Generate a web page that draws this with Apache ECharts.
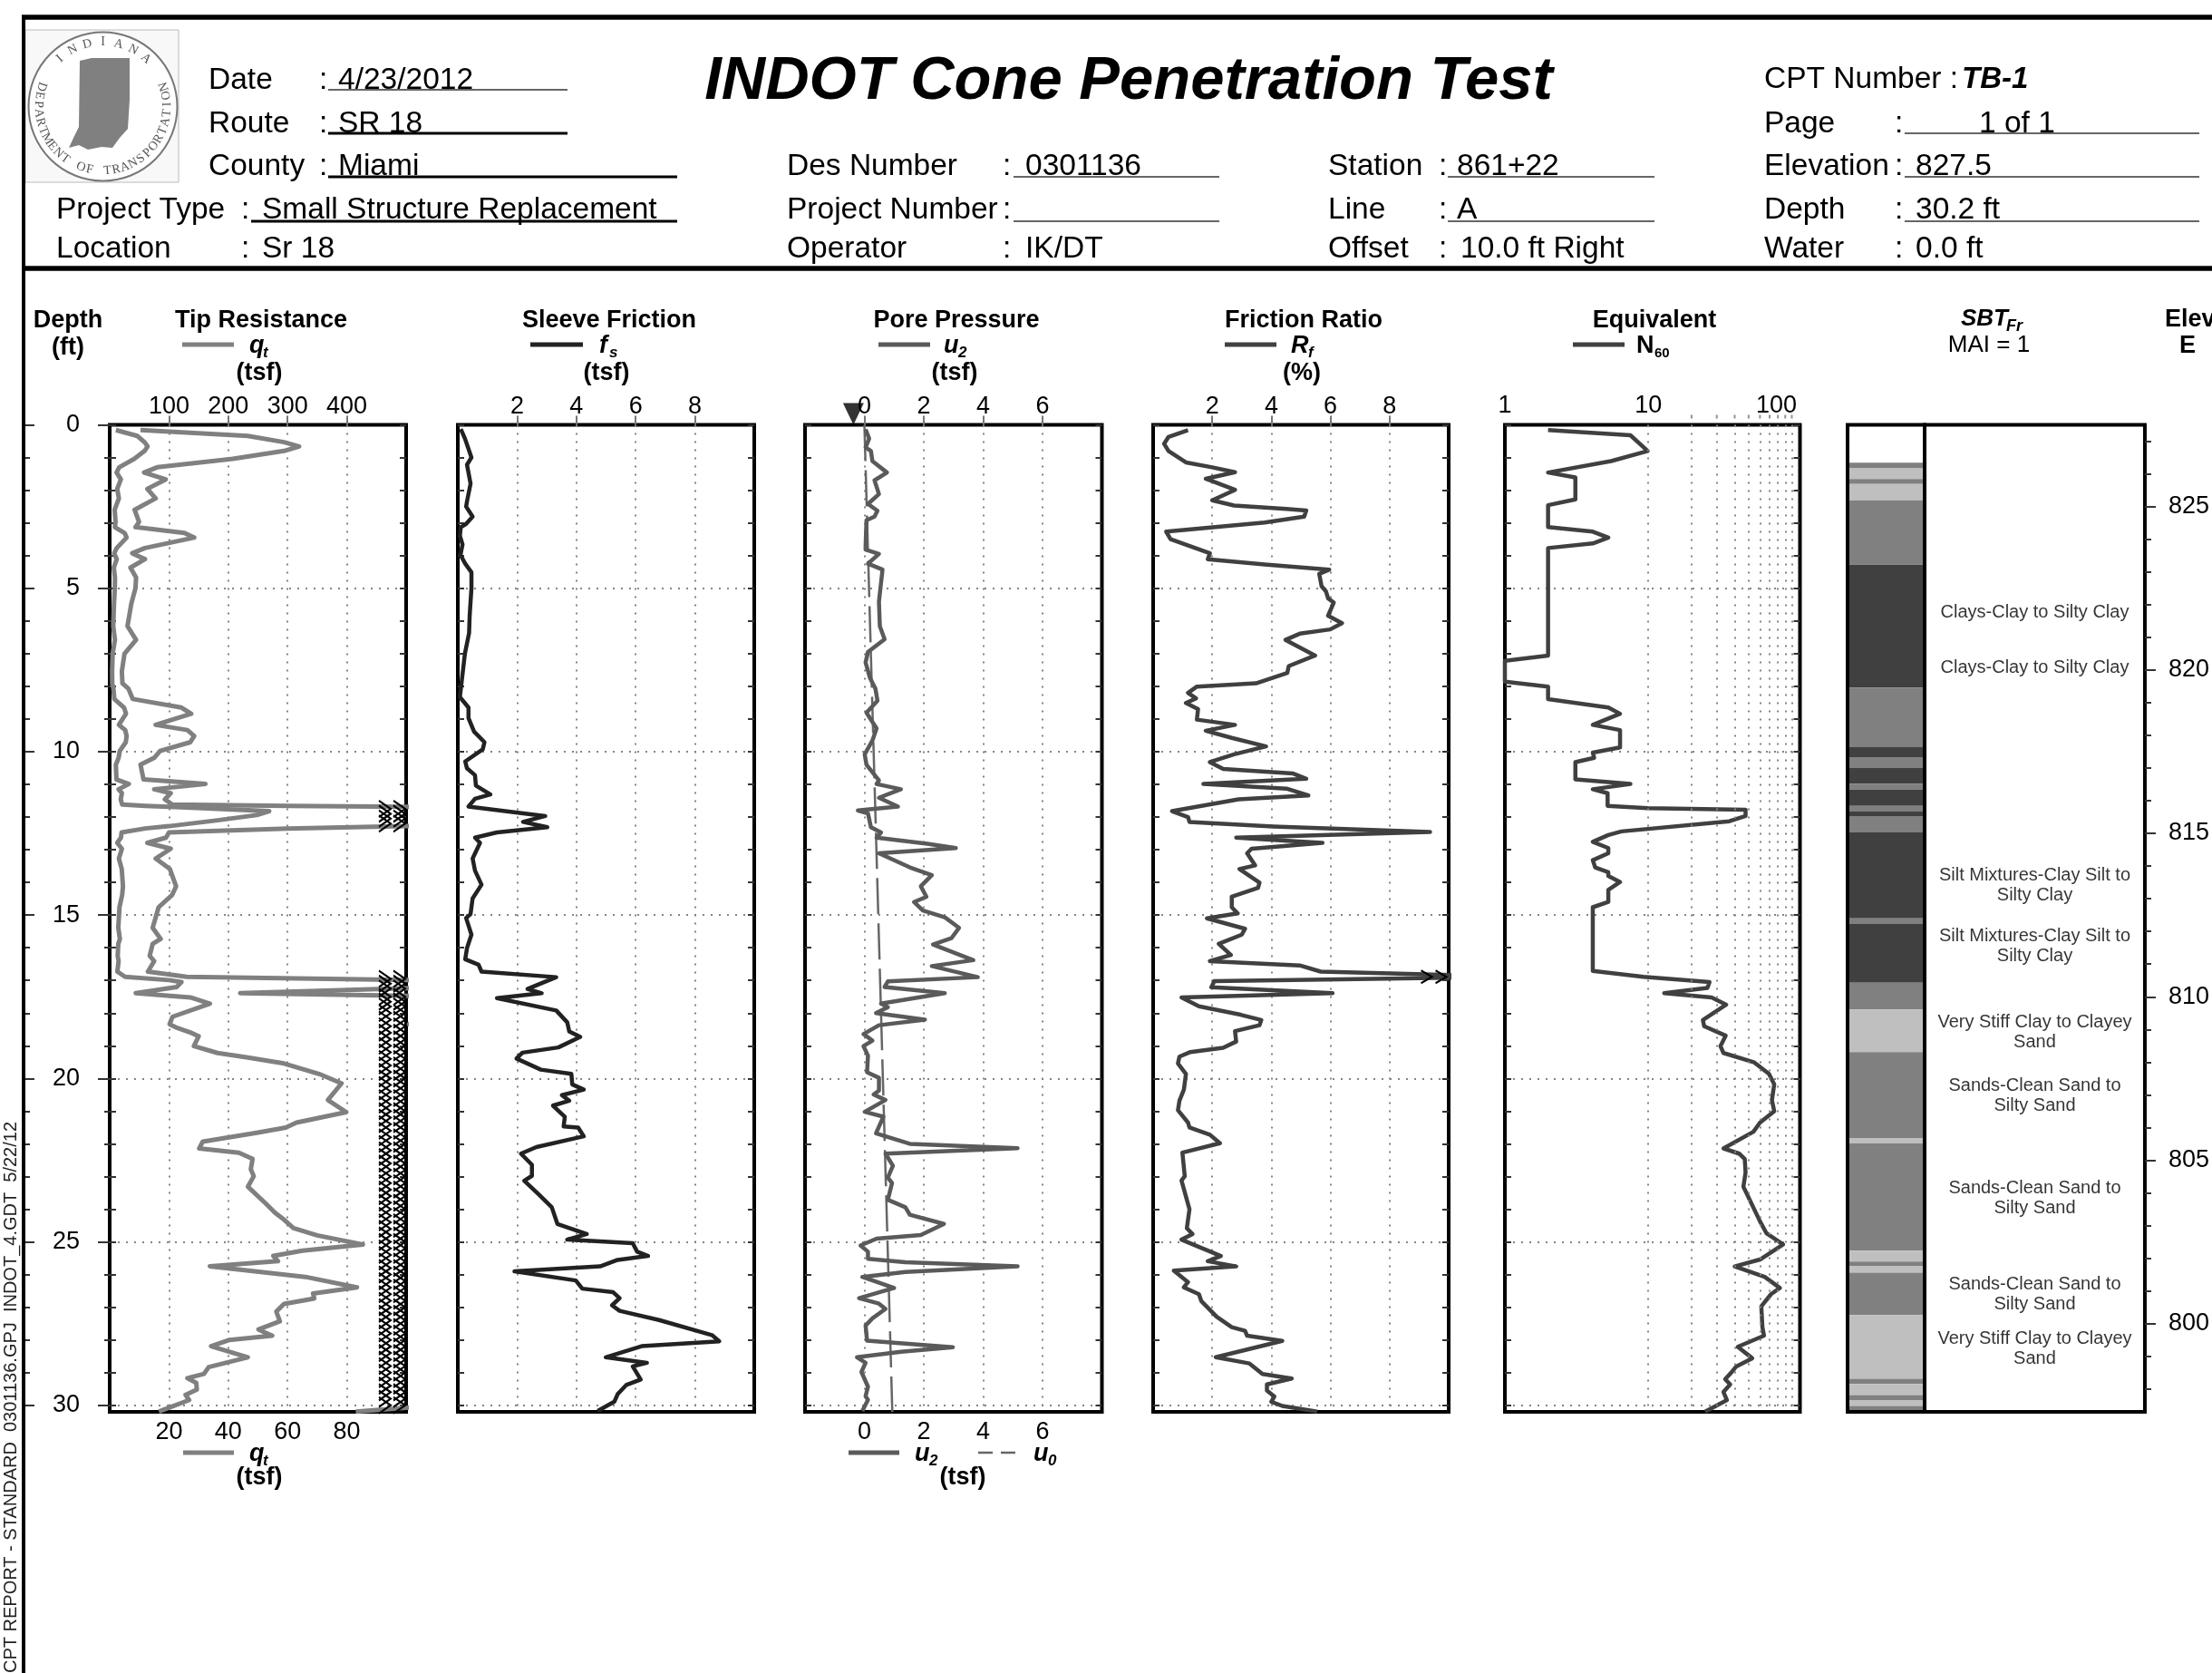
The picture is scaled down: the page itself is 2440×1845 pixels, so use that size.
<!DOCTYPE html>
<html>
<head>
<meta charset="utf-8">
<script src="https://cdn.jsdelivr.net/npm/echarts@6/dist/echarts.min.js"></script>
<style>
	html, body { margin: 0; padding: 0; background: #fff; }
	#chart { width: 2440px; height: 1845px; }
</style>
</head>
<body>
<div id="chart"></div>
<script>
// tick values
const depthMinorTicks = [0,1,2,3,4,5,6,7,8,9,10,11,12,13,14,15,16,17,18,19,20,21,22,23,24,25,26,27,28,29,30];
const depthMajorTicks = [0,5,10,15,20,25,30];
const depthGridLines = [5,10,15,20,25,30];
const qtTopTicks = [100,200,300,400];
const qtBottomTicks = [20,40,60,80];
const fsTicks = [2,4,6,8];
const u2Ticks = [0,2,4,6];
const rfTicks = [2,4,6,8];
const n60GridLines = [10,20,30,40,50,60,70,80,90,100];
const n60TopDots = [20,30,40,50,60,70,80,90,100];
const elevMinorTicks = [798,799,800,801,802,803,804,805,806,807,808,809,810,811,812,813,814,815,816,817,818,819,820,821,822,823,824,825,826,827];
const elevMajorTicks = [800,805,810,815,820,825];

// tip resistance (tsf)
const qtDepth = [0.16,0.34,0.53,0.66,0.80,1.04,1.30,1.46,1.67,1.96,2.25,2.60,2.97,3.13,3.31,3.45,3.77,3.93,4.11,4.37,4.67,5.0,5.47,6.16,6.58,7.0,7.54,7.91,8.07,8.39,8.65,8.84,9.18,9.34,9.52,9.71,9.98,10.19,10.40,10.85,10.99,11.15,11.27,11.46,11.62,11.66,11.70,11.82,11.94,12.10,12.28,12.35,12.47,12.63,12.79,12.97,13.27,13.59,14.12,14.38,14.76,15.39,15.73,15.88,16.25,16.41,16.73,16.89,16.99,17.05,17.2,17.39,17.52,17.71,18.11,18.34,18.43,18.59,18.71,19.01,19.22,19.36,19.54,19.86,20.15,20.66,21.03,21.35,21.5,21.66,21.93,22.14,22.27,22.46,22.78,22.99,23.31,23.84,24.11,24.32,24.58,24.8,25.08,25.27,25.43,25.59,25.75,26.07,26.39,26.58,26.73,26.9,27.13,27.43,27.68,27.87,28.0,28.19,28.53,28.83,29.04,29.17,29.31,29.52,29.68,29.84,30.19];
const qtTsf = [10.4,46.6,58.8,63.9,58.8,41.5,16,11.6,18.9,12.7,15.5,8.4,9.9,8.7,25.2,28.5,11.9,7.6,11.9,7.0,8.9,8.7,7.3,6.0,8.9,5.0,4.1,4.3,6.3,7.8,24.2,27.5,15.5,26.2,28.5,27.2,17,15,10.4,11.4,32.3,15,20.6,18.6,21.1,60,120,269,248,182,100,60,20,19,12.7,20.6,15.5,20.3,22.4,21.1,16.5,14.5,17.2,14.5,13.5,15,12.9,26,100,121,113,44,136,169,106,101,111,136,150,142,182,233,294,353,391,368,399,315,297,248,157,151,218,241,238,243,233,264,279,294,310,350,427,325,276,284,169,330,417,343,345,294,281,287,251,274,202,171,233,167,159,131,146,147,128,134,83];
const qtOverDepth = [11.75,11.9,12.05,12.2,16.95,17.1,17.25,17.5,17.65,17.8,18.0,18.2,18.4,18.6,18.8,19.0,19.2,19.4,19.6,19.8,20.0,20.2,20.4,20.6,20.8,21.0,21.2,21.4,21.6,21.8,22.0,22.2,22.4,22.6,22.8,23.0,23.2,23.4,23.6,23.8,24.0,24.2,24.4,24.6,24.8,25.0,25.2,25.4,25.6,25.8,26.0,26.2,26.4,26.6,26.8,27.0,27.2,27.4,27.6,27.8,28.0,28.2,28.4,28.6,28.8,29.0,29.2,29.4,29.6,29.8,30.0];
const qtOverColumns = [92.8,97.7];

// sleeve friction (tsf)
const fsDepth = [0.13,0.42,1.0,1.22,1.8,2.34,2.5,2.81,3.03,3.13,3.4,3.66,3.98,4.25,4.51,5,5.84,6.37,7.0,7.86,8.33,8.65,8.97,9.39,9.71,9.93,10.3,10.51,10.72,11.04,11.31,11.44,11.68,11.97,12.15,12.31,12.47,12.63,12.79,13.27,13.64,14.07,14.49,14.97,15.09,15.6,16.01,16.35,16.52,16.73,16.9,17.26,17.39,17.54,17.92,18.28,18.56,18.73,19.05,19.21,19.39,19.73,19.86,20.18,20.34,20.51,20.68,20.83,21.17,21.47,21.5,21.77,22.1,22.3,22.64,22.98,23.13,23.54,23.94,24.45,24.76,24.93,25.04,25.3,25.43,25.55,25.75,25.9,26.18,26.43,26.54,26.72,26.94,27.11,27.39,27.85,28.04,28.19,28.53,28.7,28.81,29.21,29.38,29.66,29.89,30.17];
const fsTsf = [0.1,0.24,0.46,0.31,0.43,0.31,0.28,0.5,0.28,0.1,0.07,0.16,0.09,0.25,0.46,0.46,0.4,0.38,0.24,0.13,0.07,0.36,0.36,0.55,0.9,0.84,0.25,0.31,0.58,0.61,1.1,0.58,0.36,2.95,2.2,3.02,1.32,0.58,0.75,0.5,0.58,0.8,0.5,0.43,0.28,0.46,0.31,0.25,0.7,0.8,3.32,2.35,2.83,1.32,3.32,3.69,3.76,4.13,3.39,2.18,1.98,2.8,3.83,3.86,4.25,3.51,3.76,3.21,3.61,3.57,4.06,4.25,2.65,2.13,2.5,2.5,2.24,2.72,3.17,3.36,4.35,3.69,5.9,6.05,6.42,5.39,4.8,1.91,3.98,4.2,5.24,5.46,5.2,5.46,6.79,8.57,8.82,6.2,4.99,6.38,5.9,6.17,5.68,5.39,5.28,4.72];

// pore pressure (tsf)
const u2Depth = [0.14,0.42,0.69,0.8,1.11,1.46,1.7,2.12,2.42,2.63,2.81,2.92,3.72,3.82,3.95,4.25,4.43,5.41,6.16,6.56,6.95,7.27,7.75,8.07,8.44,8.81,9.29,9.66,10.08,10.4,10.88,10.99,11.15,11.41,11.68,11.8,11.89,12.31,12.47,12.63,12.82,12.95,13.11,13.54,13.78,14.12,14.44,14.6,14.86,15.07,15.39,15.71,15.9,16.38,16.56,16.9,17.03,17.2,17.39,17.71,17.82,18,18.2,18.37,18.64,18.84,19.01,19.3,19.81,19.98,20.37,20.49,20.66,21.02,21.17,21.68,22.0,22.13,22.3,22.67,23.03,23.2,23.71,23.94,24.17,24.45,24.79,24.9,25.11,25.3,25.52,25.62,25.75,25.92,26.07,26.41,26.72,26.89,27.05,27.34,27.56,28.02,28.22,28.36,28.53,28.7,28.98,29.43,29.72,29.83,30.17];
const u2Tsf = [0.04,0.16,0.04,0.22,0.27,0.76,0.34,0.49,0.12,0.44,0.34,0.07,0.04,0.04,0.49,0.12,0.61,0.49,0.52,0.68,0.12,0.04,0.19,0.37,0.44,0.07,0.41,0.27,0.01,0.07,0.49,0.41,1.23,0.49,1.13,-0.22,0.12,0.22,0.56,0.41,2.12,3.08,0.49,1.53,2.27,1.9,2.09,1.67,1.97,2.71,3.19,2.93,2.31,3.67,2.27,3.82,0.79,0.68,2.71,0.56,0.79,0.39,2.04,0.49,-0.03,0.27,-0.03,0.12,0.09,0.49,0.49,0.31,0.71,0.01,0.64,0.39,1.53,5.16,0.71,0.96,0.79,0.93,0.79,1.38,1.53,2.68,1.9,0.41,-0.13,0.12,0.12,1.38,5.16,1.38,-0.07,1.0,-0.18,0.49,0.71,0.27,0.04,0.09,2.98,1.23,-0.25,0.04,-0.1,0.12,0.04,0.12,-0.07];
const u0Depth = [0,30.2];
const u0Tsf = [0,0.94];
const waterMarkU = -0.37;

// friction ratio (%)
const rfDepth = [0.16,0.37,0.58,0.8,1.15,1.3,1.45,1.65,1.99,2.31,2.47,2.57,2.62,2.81,2.99,3.27,3.5,3.93,4.11,4.27,4.43,4.56,4.94,5.1,5.31,5.44,5.84,6.07,6.26,6.39,6.58,7.06,7.38,7.59,7.91,8.01,8.2,8.37,8.51,8.7,9.02,9.18,9.36,9.58,9.84,10.08,10.32,10.53,10.67,10.83,10.99,11.13,11.34,11.46,11.82,12.0,12.15,12.29,12.46,12.63,12.74,12.79,12.97,13.11,13.48,13.59,14.01,14.17,14.44,14.76,14.95,15.1,15.42,15.6,15.88,16.22,16.41,16.54,16.73,16.89,17.02,17.21,17.39,17.52,17.79,18.05,18.21,18.37,18.55,18.87,19.06,19.19,19.33,19.54,19.86,20.34,20.68,20.97,21.35,21.5,21.72,21.98,22.27,22.99,23.12,24,24.58,24.76,24.93,25.43,25.59,25.75,25.88,26.23,26.39,26.6,26.81,27.29,27.61,27.72,27.87,28.03,28.53,28.72,29.04,29.18,29.36,29.55,29.73,29.89,30.02,30.19];
const rfPct = [1.18,0.52,0.37,0.52,1.11,2.0,2.77,1.78,2.77,2.0,2.74,4.51,5.18,5.11,3.77,0.44,0.59,1.92,1.85,3.77,5.96,5.62,5.7,5.85,5.92,6.11,5.92,6.39,5.99,4.96,4.48,5.48,4.59,4.54,3.48,1.48,1.18,1.45,1.11,1.52,1.48,2.77,1.78,2.66,3.82,2.74,1.92,2.37,4.74,5.18,1.7,4.51,5.25,2.89,0.64,1.18,1.23,4.07,9.37,2.81,4.81,5.73,3.33,3.18,3.45,2.92,3.6,3.55,2.66,2.66,2.86,1.82,3.11,3.0,2.22,2.63,1.92,4.96,5.67,12.5,2.07,1.97,6.07,0.96,1.55,2.96,3.66,3.6,2.77,2.81,2.37,1.26,0.89,0.84,1.11,1.04,0.89,0.84,1.18,1.23,1.92,2.26,0.99,1.07,0.96,1.23,1.14,1.33,0.96,2.29,1.85,2.81,0.7,1.18,1.04,1.55,1.63,2.15,2.66,3.11,3.18,4.37,2.12,3.26,3.7,4.69,3.85,3.85,4.1,4,4.37,5.55];
const rfOverDepth = [16.89];
const rfOverColumns = [9.25,9.74];

// equivalent N60
const n60Depth = [0.16,0.32,0.8,1.11,1.46,1.61,2.28,2.46,3.13,3.27,3.45,3.63,3.77,7.06,7.22,7.86,8.01,8.39,8.65,8.84,9.18,9.34,9.87,10.03,10.19,10.32,10.85,10.99,11.15,11.27,11.66,11.73,11.78,11.97,12.13,12.44,12.55,12.76,12.95,13.11,13.32,13.54,13.69,13.8,13.99,14.23,14.6,14.76,16.71,16.89,17.05,17.23,17.39,17.52,17.74,18.21,18.4,18.69,19.01,19.22,19.51,19.86,20.18,20.66,21,21.35,21.63,22.14,22.3,22.46,22.88,23.31,24.37,24.74,25.08,25.54,25.75,26.07,26.41,26.6,26.97,27.61,27.87,28.21,28.56,28.81,28.99,29.2,29.36,29.59,29.84,30.19];
const n60Val = [2,7.5,9.9,5.5,2,3.1,3.1,2,2,4.1,5.26,4.1,2,2,1,1,2,2,5.26,6.35,4.1,6.35,6.35,4.1,4.19,3.1,3.1,7.5,4.1,5.2,5.2,9.9,47.6,47.6,36.7,6.5,5.26,4.1,5.26,5.26,4.1,4.26,5.26,5.26,6.35,5.26,5.26,4.1,4.1,9.25,26.7,25.8,12.9,27.6,34.9,24,24.5,34.6,31.8,33.4,54.8,69.3,75.4,72.7,75.4,60,54,33.4,43,47,47.6,46,60,66.7,87,60,40,64.7,82.6,71.6,61.3,62.4,64,42,53,41,38,34.3,37.2,33.4,35.3,24.9];

// soil behaviour type column
const sbtTop = [1.16,1.32,1.66,1.81,2.31,4.28,8.04,9.85,10.17,10.5,10.98,11.16,11.66,11.83,11.97,12.47,15.1,15.27,17.07,17.89,19.19,21.82,21.99,25.27,25.6,25.75,25.94,27.24,29.19,29.35,29.69,29.85,30.02];
const sbtBottom = [1.32,1.66,1.81,2.31,4.28,8.04,9.85,10.17,10.5,10.98,11.16,11.66,11.83,11.97,12.47,15.1,15.27,17.07,17.89,19.19,21.82,21.99,25.27,25.6,25.75,25.94,27.24,29.19,29.35,29.69,29.85,30.02,30.2];
const sbtShade = [1,2,1,2,1,0,1,0,1,0,1,0,1,0,1,0,1,0,1,2,1,2,1,2,1,2,1,2,1,2,1,2,1];
const sbtColors = ['#404040','#808080','#bfbfbf'];
const sbtLabelDepth = [5.73,7.44,14.08,15.96,18.58,20.54,23.67,26.61,28.26];
const sbtLabelText = [
	'Clays-Clay to Silty Clay',
	'Clays-Clay to Silty Clay',
	'Silt Mixtures-Clay Silt to\nSilty Clay',
	'Silt Mixtures-Clay Silt to\nSilty Clay',
	'Very Stiff Clay to Clayey\nSand',
	'Sands-Clean Sand to\nSilty Sand',
	'Sands-Clean Sand to\nSilty Sand',
	'Sands-Clean Sand to\nSilty Sand',
	'Very Stiff Clay to Clayey\nSand'
];

const FONT = '"Liberation Sans", Arial, sans-serif';
const PLOT_TOP = 468.5;
const PLOT_H = 1088.5;
const DEPTH_MAX = 30.2;
const CHEVRON = 'path://M0,0 L10,5 L0,10';
const pairs = (xs, ys) => xs.map((x, i) => [x, ys[i]]);

const grids = [], xAxes = [], yAxes = [], series = [];
const DOTTED = { show: true, lineStyle: { color: '#858585', width: 2, type: [2, 7] } };
const NO_LINE = { show: false, onZero: false };

function depthAxis(grid, position, ticks, length, extra) {
	return Object.assign({
		type: 'value', gridIndex: grid, position: position, inverse: true, min: 0, max: DEPTH_MAX,
		axisLine: NO_LINE,
		axisTick: { show: true, inside: true, length: length, customValues: ticks, lineStyle: { color: '#333', width: 2 } },
		axisLabel: { show: false },
		splitLine: { show: false }
	}, extra || {});
}

// one framed log panel, returns indexes used by its series
function addPanel(left, right, frameZ) {
	let g = grids.length;
	grids.push({ left: left, top: PLOT_TOP, width: right - left, height: PLOT_H, show: true, backgroundColor: 'transparent', borderColor: '#000', borderWidth: 4, z: frameZ || 0 });
	let y = yAxes.length;
	yAxes.push(depthAxis(g, 'left', depthMinorTicks, 7));
	yAxes.push(depthAxis(g, 'right', depthMinorTicks, 7));
	yAxes.push(depthAxis(g, 'left', depthGridLines, 0, { axisTick: { show: false, customValues: depthGridLines }, splitLine: DOTTED }));
	return { g: g, y: y };
}

function valueAxis(grid, position, min, max, ticks, showTick) {
	let idx = xAxes.length;
	xAxes.push({
		type: 'value', gridIndex: grid, position: position, min: min, max: max,
		axisLine: NO_LINE,
		axisTick: { show: showTick, length: 10, customValues: ticks, lineStyle: { color: '#777', width: 2 } },
		axisLabel: { show: true, customValues: ticks, color: '#000', fontFamily: FONT, fontSize: 27, margin: showTick ? 6 : 9 },
		splitLine: showTick ? DOTTED : { show: false }
	});
	return idx;
}

function lineSeries(name, x, y, data, color, width, extra) {
	series.push(Object.assign({
		name: name, type: 'line', xAxisIndex: x, yAxisIndex: y, data: data, showSymbol: false, animation: false, silent: true,
		lineStyle: { color: color, width: width, join: 'round' }, z: 3
	}, extra || {}));
}

function chevronSeries(name, x, y, columns, depths, size) {
	let data = [];
	for (let col of columns)
		for (let d of depths)
			data.push([col, d]);
	series.push({
		name: name, type: 'scatter', xAxisIndex: x, yAxisIndex: y, data: data, symbol: CHEVRON, symbolSize: size, animation: false, silent: true,
		itemStyle: { color: 'none', borderColor: '#000', borderWidth: 2, opacity: 1 }, z: 4
	});
}

// tip resistance panel: same qt on both scales
let pQt = addPanel(121, 448);
let xQtTop = valueAxis(pQt.g, 'top', 0, 500, qtTopTicks, true);
let xQtBot = valueAxis(pQt.g, 'bottom', 0, 100, qtBottomTicks, false);
yAxes.push(depthAxis(pQt.g, 'left', depthMinorTicks, 7, { axisTick: { show: true, inside: false, length: 6, customValues: depthMinorTicks, lineStyle: { color: '#333', width: 2 } } }));
yAxes.push(depthAxis(pQt.g, 'left', depthMajorTicks, 13, {
	axisTick: { show: true, inside: false, length: 13, customValues: depthMajorTicks, lineStyle: { color: '#333', width: 2 } },
	axisLabel: { show: true, customValues: depthMajorTicks, color: '#000', fontFamily: FONT, fontSize: 27, margin: 33 }
}));
// short ticks hanging off the page frame
yAxes.push(depthAxis(pQt.g, 'left', depthMinorTicks, 7, { offset: 95 }));
yAxes.push(depthAxis(pQt.g, 'left', depthMajorTicks, 12, { offset: 95 }));
lineSeries('qt top', xQtTop, pQt.y, pairs(qtTsf, qtDepth), '#808080', 5);
lineSeries('qt bottom', xQtBot, pQt.y, pairs(qtTsf, qtDepth), '#808080', 5);
chevronSeries('qt over', xQtBot, pQt.y, qtOverColumns, qtOverDepth, [13, 18]);

// sleeve friction
let pFs = addPanel(505, 832);
let xFs = valueAxis(pFs.g, 'top', 0, 10, fsTicks, true);
lineSeries('fs', xFs, pFs.y, pairs(fsTsf, fsDepth), '#222', 4.5);

// pore pressure
let pU = addPanel(888, 1215.5);
let xU = valueAxis(pU.g, 'top', -2, 8, u2Ticks, true);
let xUBot = valueAxis(pU.g, 'bottom', -2, 8, u2Ticks, false);
lineSeries('u0', xU, pU.y, pairs(u0Tsf, u0Depth), '#666', 2, { lineStyle: { color: '#666', width: 2.5, type: [40, 10] } });
lineSeries('u2', xU, pU.y, pairs(u2Tsf, u2Depth), '#5a5a5a', 4.5);
series.push({
	name: 'water', type: 'scatter', xAxisIndex: xU, yAxisIndex: pU.y, data: [[waterMarkU, 0]], clip: false, symbol: 'triangle', symbolRotate: 180,
	symbolSize: [23, 24], symbolOffset: [0, -12], itemStyle: { color: '#000' }, animation: false, silent: true, z: 5
});

// friction ratio
let pRf = addPanel(1272, 1598);
let xRf = valueAxis(pRf.g, 'top', 0, 10, rfTicks, true);
lineSeries('Rf', xRf, pRf.y, pairs(rfPct, rfDepth), '#404040', 4.5);
chevronSeries('Rf over', xRf, pRf.y, rfOverColumns, rfOverDepth, [12, 14]);

// N60, log scale
let pN = addPanel(1660, 1985.5);
let xN = xAxes.length;
xAxes.push({
	type: 'log', gridIndex: pN.g, position: 'top', logBase: 10, min: 1, max: 114,
	axisLine: NO_LINE, axisTick: { show: false }, splitLine: { show: false }, minorSplitLine: { show: false },
	axisLabel: {
		show: true, color: '#000', fontFamily: FONT, fontSize: 27, margin: 7, showMaxLabel: false,
		formatter: v => (v === 100 ? '{s|100}' : (v === 1 || v === 10 ? String(v) : '')),
		rich: { s: { color: '#000', fontFamily: FONT, fontSize: 27, padding: [0, 34, 0, 0] } }
	}
});
lineSeries('N60', xN, pN.y, pairs(n60Val, n60Depth), '#404040', 4.5, {
	markLine: {
		silent: true, symbol: ['none', 'none'], animation: false, label: { show: false },
		lineStyle: { color: '#858585', width: 2, type: [2, 7] },
		data: n60GridLines.map(v => ({ xAxis: v }))
	}
});
series.push({
	name: 'N60 top dots', type: 'scatter', xAxisIndex: xN, yAxisIndex: pN.y, data: n60TopDots.map(v => [v, 0]), clip: false,
	symbol: 'rect', symbolSize: [2, 4], symbolOffset: [0, -9], itemStyle: { color: '#777' }, animation: false, silent: true
});

// SBT colour column
let pBand = addPanel(2038, 2123, 5);
let xBand = xAxes.length;
xAxes.push({ type: 'value', gridIndex: pBand.g, min: 0, max: 1, show: false });
yAxes[pBand.y].axisTick.show = false;
yAxes[pBand.y + 1].axisTick.show = false;
yAxes[pBand.y + 2].splitLine = { show: false };
series.push({
	name: 'SBT', type: 'custom', xAxisIndex: xBand, yAxisIndex: pBand.y, silent: true, animation: false,
	data: sbtTop.map((t, i) => [t, sbtBottom[i], sbtShade[i]]),
	renderItem: function(params, api) {
		let a = api.coord([0, api.value(0)]);
		let b = api.coord([1, api.value(1)]);
		return { type: 'rect', shape: { x: a[0], y: a[1], width: b[0] - a[0], height: b[1] - a[1] }, style: { fill: sbtColors[api.value(2)] } };
	}
});

// SBT text column with elevation axis on its right
let gText = grids.length;
grids.push({ left: 2123, top: PLOT_TOP, width: 243, height: PLOT_H, show: true, backgroundColor: 'transparent', borderColor: '#000', borderWidth: 4 });
let xText = xAxes.length;
xAxes.push({ type: 'value', gridIndex: gText, min: 0, max: 1, show: false });
let yText = yAxes.length;
yAxes.push(depthAxis(gText, 'left', [], 0, { axisTick: { show: false } }));
const elevTop = 827.5;
yAxes.push({
	type: 'value', gridIndex: gText, position: 'right', min: elevTop - DEPTH_MAX, max: elevTop,
	axisLine: NO_LINE, splitLine: { show: false },
	axisTick: { show: true, inside: false, length: 7, customValues: elevMinorTicks, lineStyle: { color: '#333', width: 2 } },
	axisLabel: { show: false }
});
yAxes.push({
	type: 'value', gridIndex: gText, position: 'right', min: elevTop - DEPTH_MAX, max: elevTop,
	axisLine: NO_LINE, splitLine: { show: false },
	axisTick: { show: true, inside: false, length: 12, customValues: elevMajorTicks, lineStyle: { color: '#333', width: 2 } },
	axisLabel: { show: true, customValues: elevMajorTicks, color: '#000', fontFamily: FONT, fontSize: 27, margin: 26 }
});
series.push({
	name: 'SBT labels', type: 'scatter', xAxisIndex: xText, yAxisIndex: yText, symbolSize: 0, animation: false, silent: true,
	data: sbtLabelDepth.map((d, i) => ({ value: [0.5, d], label: { formatter: sbtLabelText[i] } })),
	label: { show: true, position: 'inside', color: '#000', fontFamily: FONT, fontSize: 20, lineHeight: 22, align: 'center', verticalAlign: 'middle' }
});

// header and legend furniture
const graphic = [];
function txt(x, y, text, font, align, fill) {
	graphic.push({
		type: 'text', x: x, y: y + 1.5, silent: true, z: 10,
		style: { text: text, font: font + ' ' + FONT, fill: fill || '#000', align: align || 'left', verticalAlign: 'middle' }
	});
}
function rule(x1, y1, x2, y2, width, color, dash) {
	graphic.push({
		type: 'line', silent: true, z: 9,
		shape: { x1: x1, y1: y1, x2: x2, y2: y2 },
		style: { stroke: color || '#000', lineWidth: width, lineDash: dash || null }
	});
}

rule(24, 19, 2440, 19, 5.5);
rule(26, 17, 26, 1845, 4);
rule(26, 296, 2440, 296, 5.5);

// seal
const SEAL_X = 113.5, SEAL_Y = 117.5;
graphic.push({ type: 'rect', silent: true, z: 8, shape: { x: 28, y: 33, width: 169, height: 168 }, style: { fill: '#f8f8f8', stroke: '#bbb', lineWidth: 1 } });
graphic.push({ type: 'circle', silent: true, z: 9, shape: { cx: SEAL_X, cy: SEAL_Y, r: 82 }, style: { fill: '#fff', stroke: '#777', lineWidth: 2 } });
graphic.push({
	type: 'polygon', silent: true, z: 9,
	shape: { points: [[88, 67], [101, 64], [143, 64], [143, 110], [141, 142], [132, 152], [124, 163], [112, 162], [97, 165], [87, 160], [76, 163], [82, 150], [87, 140]] },
	style: { fill: '#808080' }
});
function sealText(text, startDeg, stepDeg, bottom) {
	for (let i = 0; i < text.length; i++) {
		let deg = startDeg + stepDeg * i;
		let rad = deg * Math.PI / 180;
		graphic.push({
			type: 'text', silent: true, z: 10,
			x: SEAL_X + 71 * Math.sin(rad), y: SEAL_Y - 71 * Math.cos(rad),
			rotation: bottom ? Math.PI - rad : -rad,
			style: { text: text[i], font: '14px "Liberation Serif", serif', fill: '#555', align: 'center', verticalAlign: 'middle' }
		});
	}
}
sealText('INDIANA', -42, 14, false);
sealText('DEPARTMENT OF TRANSPORTATION', 288, -8, true);

const F = '33.5px', B = 'bold 27px', R = '27px';
txt(230, 87, 'Date', F);   txt(352, 87, ':', F);   txt(373, 87, '4/23/2012', F);
txt(230, 135, 'Route', F); txt(352, 135, ':', F);  txt(373, 135, 'SR 18', F);
txt(230, 182, 'County', F); txt(352, 182, ':', F); txt(373, 182, 'Miami', F);
txt(62, 230, 'Project Type', F); txt(266, 230, ':', F); txt(289, 230, 'Small Structure Replacement', F);
txt(62, 273, 'Location', F); txt(266, 273, ':', F); txt(289, 273, 'Sr 18', F);
rule(362, 99, 626, 99, 2, '#666');
rule(362, 147, 626, 147, 3);
rule(362, 195, 747, 195, 3);
rule(277, 244, 747, 244, 3);

txt(868, 182, 'Des Number', F); txt(1106, 182, ':', F); txt(1131, 182, '0301136', F);
txt(868, 230, 'Project Number', F); txt(1106, 230, ':', F);
txt(868, 273, 'Operator', F); txt(1106, 273, ':', F); txt(1131, 273, 'IK/DT', F);
rule(1118, 195, 1345, 195, 2, '#666');
rule(1118, 244, 1345, 244, 2, '#666');

txt(1465, 182, 'Station', F); txt(1587, 182, ':', F); txt(1607, 182, '861+22', F);
txt(1465, 230, 'Line', F); txt(1587, 230, ':', F); txt(1607, 230, 'A', F);
txt(1465, 273, 'Offset', F); txt(1587, 273, ':', F); txt(1611, 273, '10.0 ft Right', F);
rule(1597, 195, 1825, 195, 2, '#666');
rule(1597, 244, 1825, 244, 2, '#666');

txt(1946, 86, 'CPT Number :', F); txt(2164, 86, 'TB-1', 'italic bold 33px');
txt(1946, 135, 'Page', F); txt(2090, 135, ':', F); txt(2183, 135, '1 of 1', F);
txt(1946, 182, 'Elevation', F); txt(2090, 182, ':', F); txt(2113, 182, '827.5', F);
txt(1946, 230, 'Depth', F); txt(2090, 230, ':', F); txt(2113, 230, '30.2 ft', F);
txt(1946, 273, 'Water', F); txt(2090, 273, ':', F); txt(2113, 273, '0.0 ft', F);
rule(2101, 147, 2426, 147, 2, '#666');
rule(2101, 195, 2426, 195, 2, '#666');
rule(2101, 244, 2426, 244, 2, '#666');

txt(1245, 89, 'INDOT Cone Penetration Test', 'italic bold 67px', 'center', '#000');

// column headings
txt(75, 352, 'Depth', B, 'center'); txt(75, 382, '(ft)', B, 'center');
txt(288, 352, 'Tip Resistance', B, 'center');
rule(201, 380, 258, 380, 5, '#808080');
txt(275, 380, 'q', 'italic bold 27px'); txt(290, 388, 't', 'italic bold 17px');
txt(286, 410, '(tsf)', B, 'center');
txt(672, 352, 'Sleeve Friction', B, 'center');
rule(585, 380, 643, 380, 5, '#222');
txt(661, 380, 'f', 'italic bold 27px'); txt(672, 388, 's', 'italic bold 17px');
txt(669, 410, '(tsf)', B, 'center');
txt(1055, 352, 'Pore Pressure', B, 'center');
rule(969, 380, 1026, 380, 5, '#5a5a5a');
txt(1041, 380, 'u', 'italic bold 27px'); txt(1057, 388, '2', 'italic bold 17px');
txt(1053, 410, '(tsf)', B, 'center');
txt(1438, 352, 'Friction Ratio', B, 'center');
rule(1351, 380, 1408, 380, 5, '#404040');
txt(1424, 380, 'R', 'italic bold 27px'); txt(1443, 388, 'f', 'italic bold 17px');
txt(1436, 410, '(%)', B, 'center');
txt(1825, 352, 'Equivalent', B, 'center');
rule(1735, 380, 1792, 380, 5, '#404040');
txt(1805, 380, 'N', B); txt(1825, 388, '60', 'bold 15px');
txt(2163, 350, 'SBT', 'italic bold 26px'); txt(2213, 359, 'Fr', 'italic bold 18px');
txt(2194, 379, 'MAI = 1', '26px', 'center');
txt(2388, 351, 'Elev', B); txt(2413, 380, 'E', B, 'center');

// legends under the panels
rule(202, 1602, 258, 1602, 5, '#808080');
txt(275, 1602, 'q', 'italic bold 27px'); txt(290, 1610, 't', 'italic bold 17px');
txt(286, 1628, '(tsf)', B, 'center');
rule(936, 1602, 992, 1602, 5, '#5a5a5a');
txt(1009, 1602, 'u', 'italic bold 27px'); txt(1025, 1610, '2', 'italic bold 17px');
rule(1079, 1602, 1120, 1602, 2.5, '#666', [16, 9]);
txt(1140, 1602, 'u', 'italic bold 27px'); txt(1156, 1610, '0', 'italic bold 17px');
txt(1062, 1628, '(tsf)', B, 'center');

// file stamp up the left edge
graphic.push({
	type: 'text', x: 12, y: 1237, rotation: Math.PI / 2, silent: true, z: 10,
	style: { text: 'CPT REPORT - STANDARD  0301136.GPJ  INDOT_4.GDT  5/22/12', font: '20px ' + FONT, fill: '#222', align: 'right', verticalAlign: 'middle' }
});

let myChart = echarts.init(document.getElementById('chart'), null, { renderer: 'canvas' });
myChart.setOption({
	animation: false,
	backgroundColor: '#fff',
	tooltip: { show: false },
	grid: grids,
	xAxis: xAxes,
	yAxis: yAxes,
	series: series,
	graphic: graphic
});
</script>
</body>
</html>
